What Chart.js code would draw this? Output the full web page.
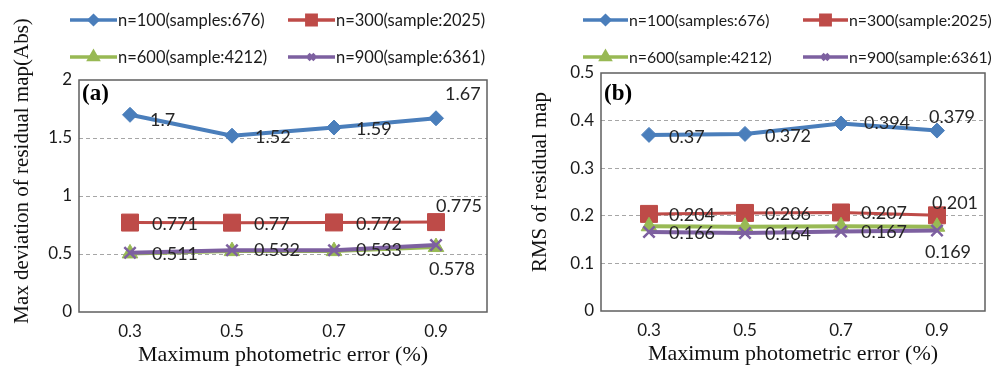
<!DOCTYPE html>
<html>
<head>
<meta charset="utf-8">
<script src="https://cdn.jsdelivr.net/npm/chart.js@4.4.1/dist/chart.umd.min.js"></script>
<style>
  html, body { margin: 0; padding: 0; background: #fff; overflow: hidden; }
  .panel { position: absolute; top: 0; height: 370px; }
  #left { left: 0; width: 500px; }
  #right { left: 500px; width: 498px; }
</style>
</head>
<body>
<div class="panel" id="left"><canvas id="chartA"></canvas></div>
<div class="panel" id="right"><canvas id="chartB"></canvas></div>
<script>
// data
const categories = ['0.3', '0.5', '0.7', '0.9'];
const seriesNames = ['n=100(samples:676)', 'n=300(sample:2025)', 'n=600(sample:4212)', 'n=900(sample:6361)'];

const maxDev100 = [1.7, 1.52, 1.59, 1.67];
const maxDev300 = [0.771, 0.77, 0.772, 0.775];
const maxDev600 = [0.505, 0.525, 0.525, 0.56];
const maxDev900 = [0.511, 0.532, 0.533, 0.578];

const rms100 = [0.37, 0.372, 0.394, 0.379];
const rms300 = [0.204, 0.206, 0.207, 0.201];
const rms600 = [0.178, 0.177, 0.178, 0.177];
const rms900 = [0.166, 0.164, 0.167, 0.169];

const maxDevTicks = [0, 0.5, 1, 1.5, 2];
const rmsTicks = [0, 0.1, 0.2, 0.3, 0.4, 0.5];

const colors = ['#4A7EBB', '#BE4B48', '#98B954', '#7D60A0'];
const markers = ['rectRot', 'rect', 'triangle', 'crossRot'];
const markerSize = [7.5, 12, 9, 8];
const drawOrder = [4, 3, 2, 1];

// which series carry data labels (green ones are hidden under purple)
const showLabels = [true, true, false, true];

const tickFont = { family: 'Lato', size: 17 };
const serif = 'Liberation Serif';

// little helper plugin: labels next to the points
const pointLabels = {
  id: 'pointLabels',
  afterDatasetsDraw(chart, args, opts) {
    const ctx = chart.ctx;
    ctx.save();
    ctx.font = '18px Lato';
    ctx.fillStyle = '#262626';
    ctx.textBaseline = 'middle';
    ctx.textAlign = 'left';
    chart.data.datasets.forEach((ds, i) => {
      if (!showLabels[i]) return;
      const meta = chart.getDatasetMeta(i);
      meta.data.forEach((pt, j) => {
        const off = (opts.offsets[i] && opts.offsets[i][j]) || [21, 2];
        ctx.fillText(String(ds.data[j]), pt.x + off[0], pt.y + off[1]);
      });
    });
    ctx.restore();
  }
};

// legend + frame + panel letter + rotated y title
const decorations = {
  id: 'decorations',
  afterDraw(chart, args, opts) {
    const ctx = chart.ctx;
    const area = chart.chartArea;
    ctx.save();
    // plot frame
    ctx.strokeStyle = '#5f5f5f';
    ctx.lineWidth = 1.5;
    ctx.strokeRect(area.left, area.top, area.right - area.left, area.bottom - area.top);

    // panel letter
    ctx.fillStyle = '#000';
    ctx.font = 'bold 23px ' + serif;
    ctx.textBaseline = 'middle';
    ctx.textAlign = 'left';
    ctx.fillText(opts.letter, area.left + 3, 94);

    // y title
    ctx.save();
    ctx.translate(opts.yTitleX, opts.yTitleY);
    ctx.rotate(-Math.PI / 2);
    ctx.textAlign = 'center';
    ctx.textBaseline = 'middle';
    ctx.font = '21px ' + serif;
    ctx.fillStyle = '#111';
    ctx.fillText(opts.yTitle, 0, 0);
    ctx.restore();

    // legend
    ctx.font = opts.legendFont + 'px Lato';
    ctx.textBaseline = 'middle';
    chart.data.datasets.forEach((ds, i) => {
      const x = opts.legendX[i % 2];
      const y = opts.legendY[Math.floor(i / 2)];
      ctx.strokeStyle = colors[i];
      ctx.lineWidth = 3.5;
      ctx.beginPath();
      ctx.moveTo(x, y);
      ctx.lineTo(x + opts.legendLine, y);
      ctx.stroke();
      ctx.fillStyle = colors[i];
      Chart.helpers.drawPoint(ctx, {
        pointStyle: markers[i], radius: markerSize[i] * 0.55, borderWidth: 2, rotation: 0
      }, x + opts.legendLine / 2, y);
      ctx.fillStyle = '#1a1a1a';
      ctx.fillText(ds.label, x + opts.legendLine + 1, y + 1);
    });
    ctx.restore();
  }
};

function makeChart(id, values, ticks, yMax, axisWidth, padTop, padRight, bottomPad, deco, offsets) {
  return new Chart(document.getElementById(id), {
    type: 'line',
    data: {
      labels: categories,
      datasets: values.map((v, i) => ({
        label: seriesNames[i],
        data: v,
        borderColor: colors[i],
        backgroundColor: colors[i],
        pointBackgroundColor: colors[i],
        pointBorderColor: colors[i],
        pointBorderWidth: i === 3 ? 2.5 : 1,
        borderWidth: i === 1 ? 3 : 4,
        pointStyle: markers[i],
        pointRadius: markerSize[i],
        tension: 0,
        order: drawOrder[i]
      }))
    },
    options: {
      responsive: true,
      maintainAspectRatio: false,
      animation: false,
      layout: { padding: { top: padTop, right: padRight, left: 0, bottom: bottomPad } },
      plugins: {
        legend: { display: false },
        tooltip: { enabled: false },
        pointLabels: { offsets: offsets },
        decorations: deco
      },
      scales: {
        x: {
          offset: true,
          afterFit: (scale) => { scale.height = 56; },
          grid: { display: false, drawTicks: false },
          border: { display: false },
          ticks: { font: tickFont, color: '#1a1a1a', padding: 9 },
          title: {
            display: true,
            text: 'Maximum photometric error (%)',
            font: { family: serif, size: 22 },
            color: '#111',
            padding: { top: 0, bottom: 0 }
          }
        },
        y: {
          min: 0,
          max: yMax,
          afterBuildTicks: (scale) => { scale.ticks = ticks.map(v => ({ value: v })); },
          afterFit: (scale) => { scale.width = axisWidth; },
          grid: {
            color: (c) => (c.tick.value === 0 || c.tick.value === yMax) ? 'rgba(0,0,0,0)' : '#a6a6a6',
            lineWidth: 1,
            drawTicks: false
          },
          border: { display: false, dash: [4, 3] },
          ticks: {
            font: tickFont,
            color: '#1a1a1a',
            padding: 7,
            callback: (v) => String(v)
          }
        }
      }
    },
    plugins: [pointLabels, decorations]
  });
}

const chartA = makeChart('chartA',
  [maxDev100, maxDev300, maxDev600, maxDev900], maxDevTicks, 2, 79, 80, 12, 2,
  {
    letter: '(a)', yTitle: 'Max deviation of residual map(Abs)', yTitleX: 22, yTitleY: 171,
    legendX: [70, 288], legendY: [20, 57], legendLine: 47, legendFont: 16.5
  },
  [
    [[20, 5], [23, 2], [22, 2], [9, -24]],
    [[22, 2], [22, 2], [22, 2], [0, -16]],
    [],
    [[22, 1], [22, 0], [22, 0], [-7, 24]]
  ]);

const chartB = makeChart('chartB',
  [rms100, rms300, rms600, rms900], rmsTicks, 0.5, 101, 73, 5, 3,
  {
    letter: '(b)', yTitle: 'RMS of residual map', yTitleX: 40, yTitleY: 182,
    legendX: [83, 303], legendY: [20, 57], legendLine: 45, legendFont: 15.8
  },
  [
    [[20, 2], [20, 2], [23, 0], [-8, -13]],
    [[20, 1], [20, 1], [20, 1], [-5, -12]],
    [],
    [[20, 1], [20, 1], [20, 1], [-12, 22]]
  ]);
</script>
</body>
</html>
